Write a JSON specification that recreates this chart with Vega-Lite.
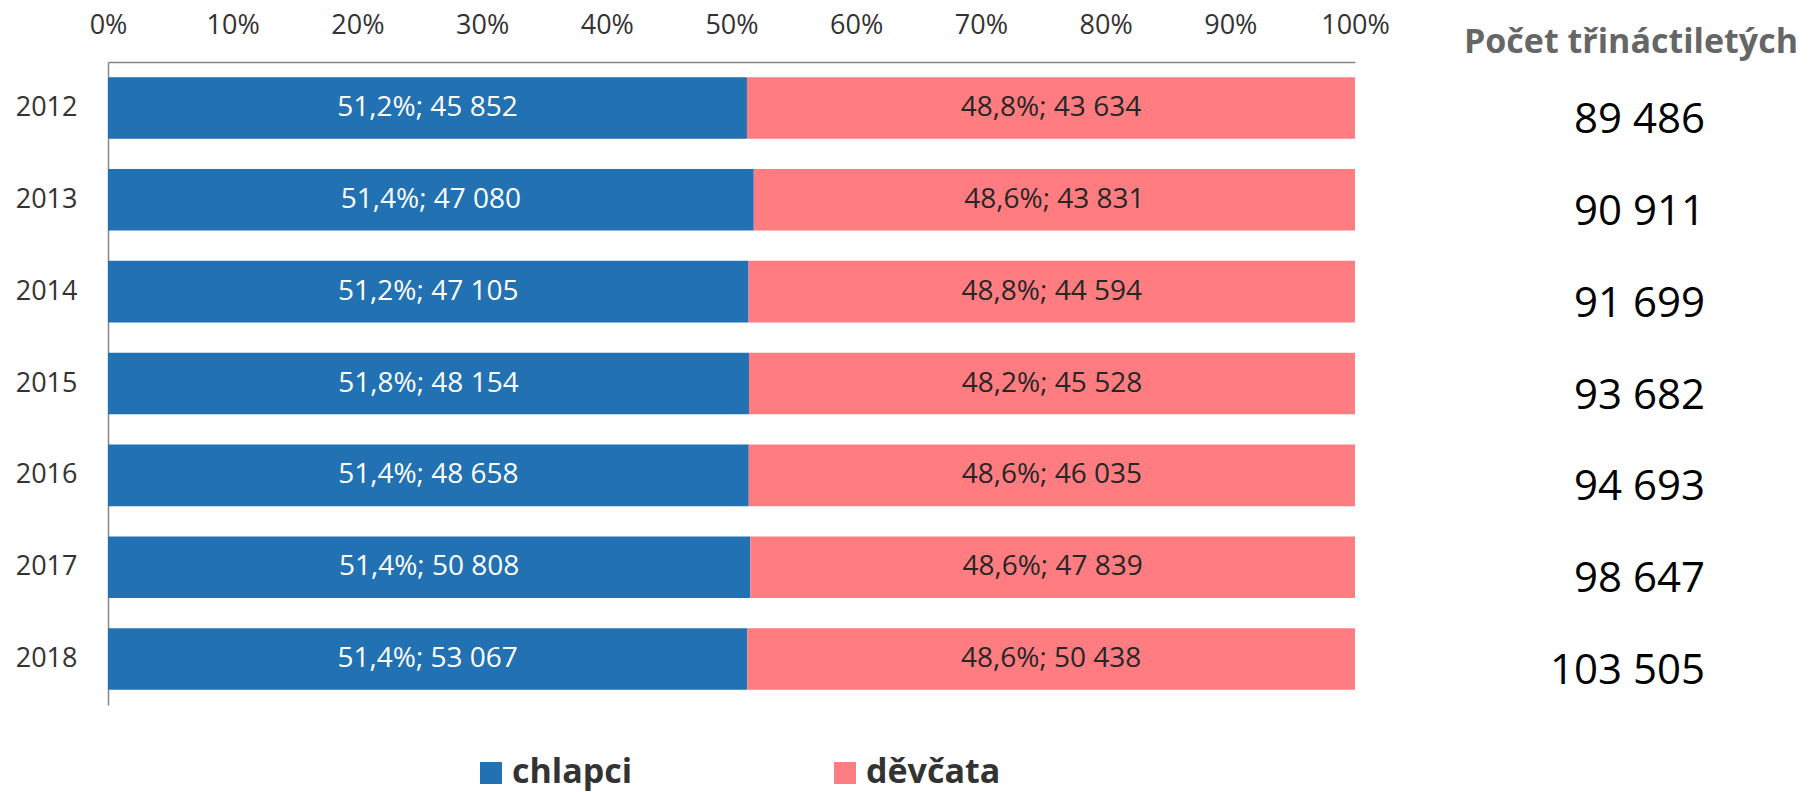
{
  "$schema": "https://vega.github.io/schema/vega-lite/v6.json",
  "width": 1247,
  "height": 643,
  "autosize": {"type": "none"},
  "padding": {"left": 108, "top": 62, "right": 461, "bottom": 87},
  "background": "white",
  "config": {
    "font": "Open Sans",
    "view": {"stroke": null},
    "axis": {"labelFont": "Open Sans"}
  },
  "title": {
    "text": "Počet třináctiletých",
    "anchor": "end",
    "frame": "group",
    "dx": 443,
    "dy": 80,
    "baseline": "alphabetic",
    "fontSize": 34,
    "fontWeight": "bold",
    "color": "#666666",
    "font": "Open Sans"
  },
  "datasets": {
    "bars": [
      {"year": "2012", "gender": "chlapci", "count": 45852, "label": "51,2%; 45 852"},
      {"year": "2012", "gender": "děvčata", "count": 43634, "label": "48,8%; 43 634"},
      {"year": "2013", "gender": "chlapci", "count": 47080, "label": "51,4%; 47 080"},
      {"year": "2013", "gender": "děvčata", "count": 43831, "label": "48,6%; 43 831"},
      {"year": "2014", "gender": "chlapci", "count": 47105, "label": "51,2%; 47 105"},
      {"year": "2014", "gender": "děvčata", "count": 44594, "label": "48,8%; 44 594"},
      {"year": "2015", "gender": "chlapci", "count": 48154, "label": "51,8%; 48 154"},
      {"year": "2015", "gender": "děvčata", "count": 45528, "label": "48,2%; 45 528"},
      {"year": "2016", "gender": "chlapci", "count": 48658, "label": "51,4%; 48 658"},
      {"year": "2016", "gender": "děvčata", "count": 46035, "label": "48,6%; 46 035"},
      {"year": "2017", "gender": "chlapci", "count": 50808, "label": "51,4%; 50 808"},
      {"year": "2017", "gender": "děvčata", "count": 47839, "label": "48,6%; 47 839"},
      {"year": "2018", "gender": "chlapci", "count": 53067, "label": "51,4%; 53 067"},
      {"year": "2018", "gender": "děvčata", "count": 50438, "label": "48,6%; 50 438"}
    ],
    "totals": [
      {"year": "2012", "total": "89 486"},
      {"year": "2013", "total": "90 911"},
      {"year": "2014", "total": "91 699"},
      {"year": "2015", "total": "93 682"},
      {"year": "2016", "total": "94 693"},
      {"year": "2017", "total": "98 647"},
      {"year": "2018", "total": "103 505"}
    ]
  },
  "layer": [
    {
      "data": {"name": "bars"},
      "transform": [
        {"stack": "count", "groupby": ["year"], "offset": "normalize", "sort": [{"field": "gender", "order": "ascending"}], "as": ["x0", "x1"]}
      ],
      "mark": {"type": "bar"},
      "encoding": {
        "y": {
          "field": "year", "type": "ordinal",
          "scale": {"paddingInner": 0.33, "paddingOuter": 0.165},
          "axis": {"title": null, "ticks": false, "labelFontSize": 27, "labelColor": "#333333", "labelPadding": 31, "domainColor": "#868686", "domainWidth": 1.5}
        },
        "x": {
          "field": "x0", "type": "quantitative",
          "scale": {"domain": [0, 1], "nice": false, "clamp": false},
          "axis": {"orient": "top", "title": null, "format": ".0%", "values": [0, 0.1, 0.2, 0.3, 0.4, 0.5, 0.6, 0.7, 0.8, 0.9, 1], "labelOverlap": false, "labelBound": false, "labelFlush": false, "ticks": false, "grid": false, "labelFontSize": 27, "labelColor": "#333333", "labelPadding": 23, "domainColor": "#868686", "domainWidth": 1.5}
        },
        "x2": {"field": "x1"},
        "color": {
          "field": "gender", "type": "nominal",
          "scale": {"domain": ["chlapci", "děvčata"], "range": ["#2271B3", "#FF7C80"]},
          "legend": {
            "orient": "none", "legendX": 366, "legendY": 694, "direction": "horizontal",
            "title": null, "symbolType": "square", "symbolSize": 484, "symbolStrokeWidth": 0,
            "labelFontSize": 34, "labelFontWeight": "bold", "labelColor": "#333333", "labelFont": "Open Sans",
            "labelOffset": 4, "columnPadding": 195, "padding": 0, "labelLimit": 400
          }
        }
      }
    },
    {
      "data": {"name": "bars"},
      "transform": [
        {"stack": "count", "groupby": ["year"], "offset": "normalize", "sort": [{"field": "gender", "order": "ascending"}], "as": ["x0", "x1"]},
        {"calculate": "(datum.x0 + datum.x1) / 2", "as": "mid"}
      ],
      "mark": {"type": "text", "fontSize": 28, "baseline": "middle", "align": "center", "font": "Open Sans"},
      "encoding": {
        "y": {"field": "year", "type": "ordinal"},
        "x": {"field": "mid", "type": "quantitative"},
        "text": {"field": "label"},
        "color": {"condition": {"test": "datum.gender === 'chlapci'", "value": "#FFFFFF"}, "value": "#262626"}
      }
    },
    {
      "data": {"name": "totals"},
      "mark": {"type": "text", "fontSize": 42, "baseline": "middle", "align": "right", "dy": 12, "font": "Open Sans", "color": "#000000"},
      "encoding": {
        "y": {"field": "year", "type": "ordinal"},
        "x": {"datum": 1.2807, "type": "quantitative"},
        "text": {"field": "total"}
      }
    }
  ]
}
